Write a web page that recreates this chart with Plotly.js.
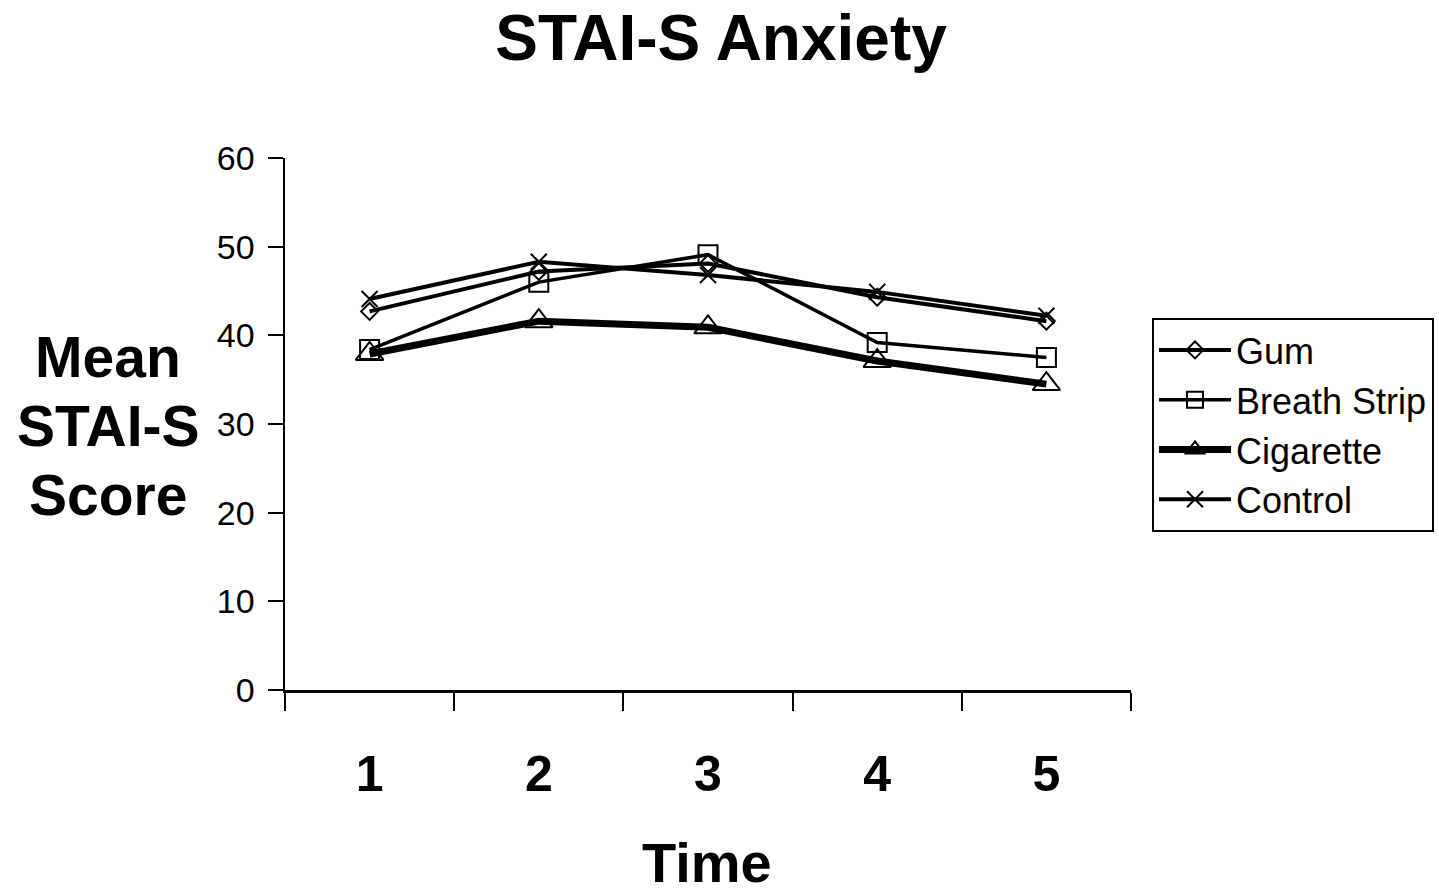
<!DOCTYPE html>
<html>
<head>
<meta charset="utf-8">
<script src="https://cdn.plot.ly/plotly-3.0.1.min.js"></script>
<style>
  html, body { margin: 0; padding: 0; background: #fff; }
  #chart { width: 1439px; height: 892px; }
</style>
</head>
<body>
<div id="chart"></div>
<script>
// Measurement occasions and their labels
const timePoints = [1, 2, 3, 4, 5];
const timeLabels = ['1', '2', '3', '4', '5'];

// Mean STAI-S score per group at each time point
const gum = [42.7, 47.2, 48.1, 44.3, 41.6];
const breathStrip = [38.4, 46.0, 49.1, 39.2, 37.5];
const cigarette = [37.9, 41.6, 40.9, 37.1, 34.5];
const control = [44.1, 48.3, 46.8, 44.9, 42.2];

// Y axis tick values
const yTicks = [0, 10, 20, 30, 40, 50, 60];

const FONT = 'Liberation Sans, Arial, Helvetica, sans-serif';

// Category boundaries, where the x-axis tick marks sit
const boundaries = [0.5].concat(timePoints.map(t => t + 0.5));

function series(name, values, symbol, size, width) {
  return {
    type: 'scatter',
    mode: 'lines+markers',
    name: name,
    x: timePoints,
    y: values,
    line: { color: '#000', width: width },
    marker: { symbol: symbol, size: size, color: '#000', line: { color: '#000', width: 2 } },
    cliponaxis: false
  };
}

const traces = [
  series('Gum', gum, 'diamond-open', 13, 4),
  series('Breath Strip', breathStrip, 'square-open', 19, 3.5),
  series('Cigarette', cigarette, 'triangle-up-open', 24, 7),
  series('Control', control, 'x-thin-open', 16, 4)
];

// Time labels drawn by an overlaid axis centred on each category
traces.push({
  type: 'scatter', mode: 'markers', x: timePoints, y: timePoints.map(() => null),
  xaxis: 'x2', showlegend: false, hoverinfo: 'skip'
});

const layout = {
  width: 1439,
  height: 892,
  margin: { l: 285, r: 308, t: 158, b: 202, autoexpand: false },
  paper_bgcolor: '#fff',
  plot_bgcolor: '#fff',
  showlegend: true,
  font: { family: FONT, color: '#000' },
  title: {
    text: '<b>STAI-S Anxiety</b>',
    font: { family: FONT, size: 64, color: '#000' },
    x: 721 / 1439, xref: 'container', xanchor: 'center',
    y: 1 - 38 / 892, yref: 'container', yanchor: 'middle'
  },
  xaxis: {
    range: [0.5, 5.5],
    tickvals: boundaries,
    ticktext: boundaries.map(() => ''),
    ticks: 'outside',
    ticklen: 18,
    tickwidth: 2,
    tickcolor: '#000',
    showline: true,
    linecolor: '#000',
    linewidth: 2.5,
    showgrid: false,
    zeroline: false
  },
  xaxis2: {
    overlaying: 'x',
    anchor: 'y',
    side: 'bottom',
    range: [0.5, 5.5],
    tickvals: timePoints,
    ticktext: timeLabels.map(s => '<b>' + s + '</b>'),
    ticks: '',
    ticklabelstandoff: 50,
    showline: false,
    showgrid: false,
    zeroline: false,
    tickfont: { family: FONT, size: 50, color: '#000' }
  },
  yaxis: {
    range: [0, 60],
    tickvals: yTicks,
    ticks: 'outside',
    ticklen: 15,
    tickwidth: 2,
    tickcolor: '#000',
    showline: true,
    linecolor: '#000',
    linewidth: 2.5,
    showgrid: false,
    zeroline: false,
    ticklabelstandoff: 6,
    tickfont: { family: FONT, size: 34, color: '#000' }
  },
  legend: {
    x: (1152 - 285) / 846,
    xanchor: 'left',
    y: (690 - 318) / 532,
    yanchor: 'top',
    bgcolor: '#fff',
    bordercolor: '#000',
    borderwidth: 2,
    font: { family: FONT, size: 36, color: '#000' },
    itemwidth: 72,
    entrywidth: 310
  },
  annotations: [
    ['Mean', 357], ['STAI-S', 426], ['Score', 495]
  ].map(([txt, yPix]) => ({
    text: '<b>' + txt + '</b>',
    xref: 'paper', yref: 'paper',
    x: (108 - 285) / 846, y: (690 - yPix) / 532,
    xanchor: 'center', yanchor: 'middle',
    showarrow: false,
    font: { family: FONT, size: 57, color: '#000' }
  })).concat([
    {
      text: '<b>Time</b>',
      xref: 'paper', yref: 'paper',
      x: (707 - 285) / 846, y: (690 - 862) / 532,
      xanchor: 'center', yanchor: 'middle',
      height: 50,
      showarrow: false,
      font: { family: FONT, size: 56, color: '#000' }
    }
  ])
};

Plotly.newPlot('chart', traces, layout, { displayModeBar: false, staticPlot: true });
</script>
</body>
</html>
